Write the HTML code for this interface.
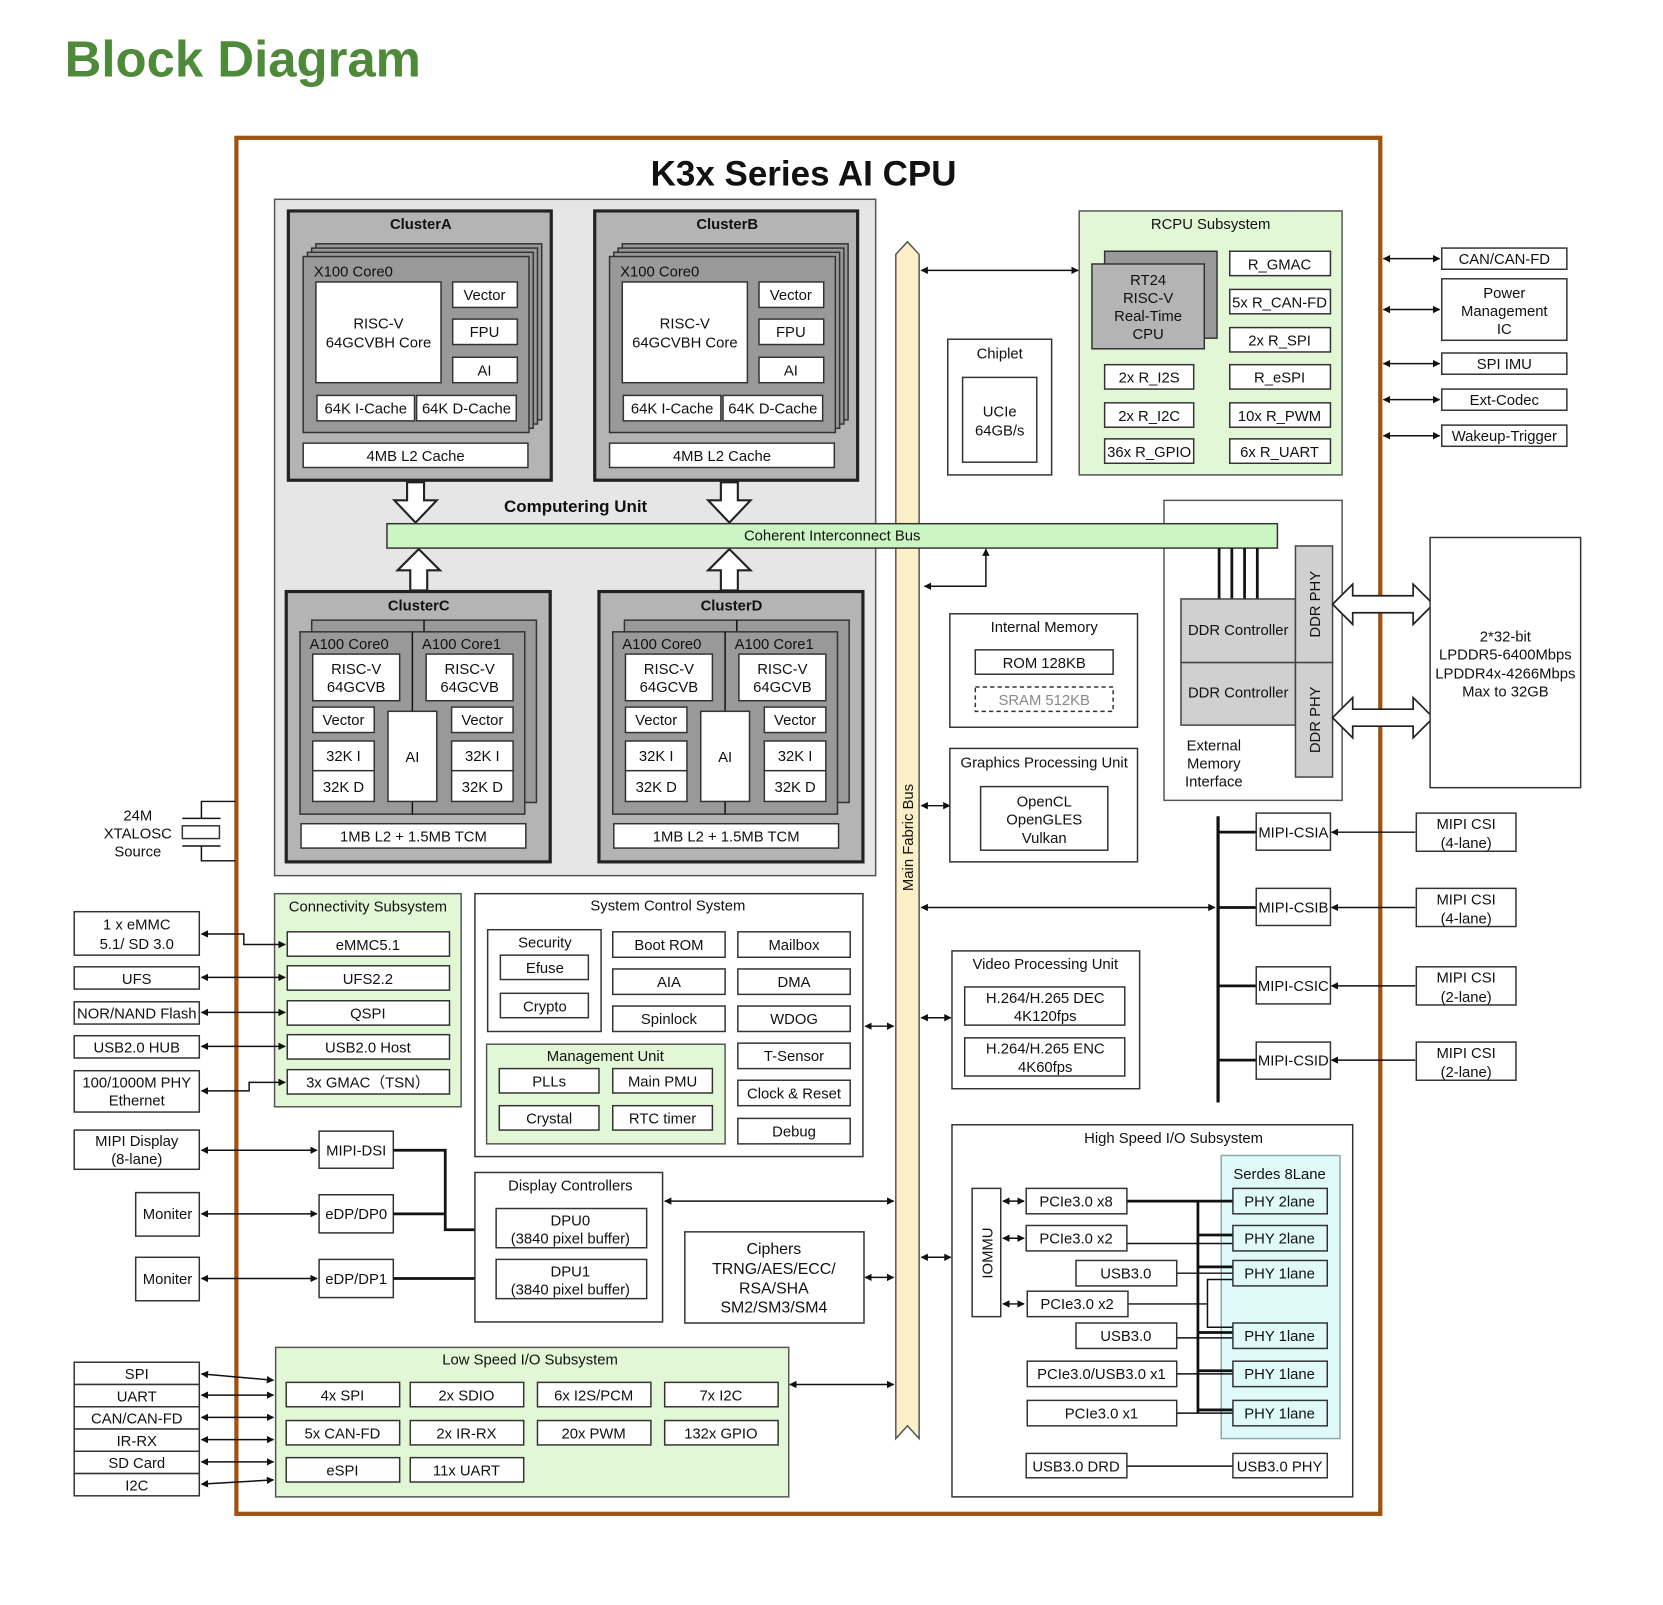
<!DOCTYPE html>
<html><head><meta charset="utf-8"><style>
html,body{margin:0;padding:0;background:#fff;}
svg{display:block;}
text{font-family:"Liberation Sans",sans-serif;font-size:14px;fill:#111;text-anchor:middle;}
.l{text-anchor:start;}
.b{font-weight:bold;}
rect{fill:#fff;stroke:#333;stroke-width:1.4;}
.g{fill:#b4b4b4;stroke:#222;stroke-width:3;}
.m{fill:#999;stroke:#333;stroke-width:1.4;}
.lg{fill:#e1f7d5;stroke:#555;}
.gr{fill:#d0d0d0;stroke:#444;}
line,polyline,path{stroke:#111;stroke-width:1.4;fill:none;}
.a{marker-start:url(#ar);marker-end:url(#ar);}
.e{marker-end:url(#ar);}
.t{stroke-width:2.6;}
</style></head><body>
<svg width="1663" height="1605" viewBox="0 0 1568.7 1514" preserveAspectRatio="none" xmlns="http://www.w3.org/2000/svg">
<defs><marker id="ar" viewBox="0 0 10 10" refX="9" refY="5" markerWidth="7" markerHeight="7" orient="auto-start-reverse" markerUnits="userSpaceOnUse"><path d="M0,0 L10,5 L0,10 z" style="fill:#111;stroke:none"/></marker></defs>

<text x="61" y="72" class="l b" style="font-size:48px;fill:#4e8a3a">Block Diagram</text>
<rect x="223" y="130" width="1079" height="1298" style="fill:#fff;stroke:#a0520f;stroke-width:4"/>
<text x="758" y="175" class="b" style="font-size:33px">K3x Series AI CPU</text>

<rect x="259" y="188" width="567" height="638" style="fill:#e6e6e6;stroke:#555"/>
<g>
<rect class="g" x="272" y="199" width="248" height="254"/>
<text x="397" y="216" class="b">ClusterA</text>
<rect class="m" x="298" y="230" width="213" height="166"/><rect class="m" x="294" y="234" width="213" height="166"/><rect class="m" x="290" y="238" width="213" height="166"/><rect class="m" x="286" y="242" width="213" height="166"/>
<text x="296" y="261" class="l">X100 Core0</text>
<rect x="298" y="266" width="118" height="95"/><text x="357" y="310">RISC-V</text><text x="357" y="328">64GCVBH Core</text>
<rect x="427" y="266" width="61" height="24"/><text x="457" y="283">Vector</text>
<rect x="427" y="301" width="61" height="24"/><text x="457" y="318">FPU</text>
<rect x="427" y="337" width="61" height="24"/><text x="457" y="354">AI</text>
<rect x="299" y="373" width="92" height="24"/><text x="345" y="390">64K I-Cache</text>
<rect x="393" y="373" width="94" height="24"/><text x="440" y="390">64K D-Cache</text>
<rect x="286" y="418" width="212" height="23"/><text x="392" y="435">4MB L2 Cache</text>
</g>
<g transform="translate(289,0)">
<rect class="g" x="272" y="199" width="248" height="254"/>
<text x="397" y="216" class="b">ClusterB</text>
<rect class="m" x="298" y="230" width="213" height="166"/><rect class="m" x="294" y="234" width="213" height="166"/><rect class="m" x="290" y="238" width="213" height="166"/><rect class="m" x="286" y="242" width="213" height="166"/>
<text x="296" y="261" class="l">X100 Core0</text>
<rect x="298" y="266" width="118" height="95"/><text x="357" y="310">RISC-V</text><text x="357" y="328">64GCVBH Core</text>
<rect x="427" y="266" width="61" height="24"/><text x="457" y="283">Vector</text>
<rect x="427" y="301" width="61" height="24"/><text x="457" y="318">FPU</text>
<rect x="427" y="337" width="61" height="24"/><text x="457" y="354">AI</text>
<rect x="299" y="373" width="92" height="24"/><text x="345" y="390">64K I-Cache</text>
<rect x="393" y="373" width="94" height="24"/><text x="440" y="390">64K D-Cache</text>
<rect x="286" y="418" width="212" height="23"/><text x="392" y="435">4MB L2 Cache</text>
</g>
<polygon points="384,455 400,455 400,472 412,472 392,493 372,472 384,472" style="fill:#fff;stroke:#222;stroke-width:2"/>
<polygon points="680,455 696,455 696,472 708,472 688,493 668,472 680,472" style="fill:#fff;stroke:#222;stroke-width:2"/>
<polygon points="387,557 403,557 403,538 415,538 395,518 375,538 387,538" style="fill:#fff;stroke:#222;stroke-width:2"/>
<polygon points="680,557 696,557 696,538 708,538 688,518 668,538 680,538" style="fill:#fff;stroke:#222;stroke-width:2"/>
<text x="543" y="483" class="b" style="font-size:16px">Computering Unit</text>

<g>
<rect class="g" x="270" y="558" width="249" height="255"/>
<text x="395" y="576" class="b">ClusterC</text>
<rect class="m" x="294" y="585" width="212" height="172"/><line x1="400" y1="585" x2="400" y2="596"/>
<rect class="m" x="283" y="596" width="212" height="172"/><line x1="389" y1="596" x2="389" y2="768"/>
<text x="292" y="612" class="l">A100 Core0</text><text x="398" y="612" class="l">A100 Core1</text>
<rect x="295" y="617" width="82" height="44"/><text x="336" y="636">RISC-V</text><text x="336" y="653">64GCVB</text>
<rect x="402" y="617" width="82" height="44"/><text x="443" y="636">RISC-V</text><text x="443" y="653">64GCVB</text>
<rect x="295" y="667" width="58" height="24"/><text x="324" y="684">Vector</text>
<rect x="426" y="667" width="58" height="24"/><text x="455" y="684">Vector</text>
<rect x="366" y="671" width="46" height="85"/><text x="389" y="719">AI</text>
<rect x="295" y="699" width="58" height="28"/><text x="324" y="718">32K I</text>
<rect x="295" y="727" width="58" height="29"/><text x="324" y="747">32K D</text>
<rect x="426" y="699" width="58" height="28"/><text x="455" y="718">32K I</text>
<rect x="426" y="727" width="58" height="29"/><text x="455" y="747">32K D</text>
<rect x="284" y="777" width="212" height="23"/><text x="390" y="794">1MB L2 + 1.5MB TCM</text>
</g>
<g transform="translate(295,0)">
<rect class="g" x="270" y="558" width="249" height="255"/>
<text x="395" y="576" class="b">ClusterD</text>
<rect class="m" x="294" y="585" width="212" height="172"/><line x1="400" y1="585" x2="400" y2="596"/>
<rect class="m" x="283" y="596" width="212" height="172"/><line x1="389" y1="596" x2="389" y2="768"/>
<text x="292" y="612" class="l">A100 Core0</text><text x="398" y="612" class="l">A100 Core1</text>
<rect x="295" y="617" width="82" height="44"/><text x="336" y="636">RISC-V</text><text x="336" y="653">64GCVB</text>
<rect x="402" y="617" width="82" height="44"/><text x="443" y="636">RISC-V</text><text x="443" y="653">64GCVB</text>
<rect x="295" y="667" width="58" height="24"/><text x="324" y="684">Vector</text>
<rect x="426" y="667" width="58" height="24"/><text x="455" y="684">Vector</text>
<rect x="366" y="671" width="46" height="85"/><text x="389" y="719">AI</text>
<rect x="295" y="699" width="58" height="28"/><text x="324" y="718">32K I</text>
<rect x="295" y="727" width="58" height="29"/><text x="324" y="747">32K D</text>
<rect x="426" y="699" width="58" height="28"/><text x="455" y="718">32K I</text>
<rect x="426" y="727" width="58" height="29"/><text x="455" y="747">32K D</text>
<rect x="284" y="777" width="212" height="23"/><text x="390" y="794">1MB L2 + 1.5MB TCM</text>
</g>

<polygon points="845,240 856,228 867,240 867,1357 856,1345 845,1357" style="fill:#fdf0c8;stroke:#555;stroke-width:1.4"/>
<text x="861" y="790" transform="rotate(-90 861 790)">Main Fabric Bus</text>

<line class="a" x1="869" y1="255" x2="1017" y2="255"/>
<polyline class="a" points="872,553 930,553 930,518"/>
<line class="a" x1="869" y1="760" x2="896" y2="760"/>
<line class="a" x1="869" y1="856" x2="1146" y2="856"/>
<line class="a" x1="869" y1="960" x2="897" y2="960"/>
<line class="a" x1="869" y1="1186" x2="897" y2="1186"/>
<line class="a" x1="816" y1="968" x2="843" y2="968"/>
<line class="a" x1="627" y1="1133" x2="843" y2="1133"/>
<line class="a" x1="816" y1="1205" x2="843" y2="1205"/>
<line class="a" x1="745" y1="1306" x2="843" y2="1306"/>

<rect class="lg" x="1018" y="199" width="248" height="249"/>
<text x="1142" y="216">RCPU Subsystem</text>
<rect class="m" x="1042" y="237" width="106" height="82"/>
<rect x="1030" y="249" width="106" height="80" style="fill:#b4b4b4"/>
<text x="1083" y="269">RT24</text><text x="1083" y="286">RISC-V</text><text x="1083" y="303">Real-Time</text><text x="1083" y="320">CPU</text>
<rect x="1160" y="237" width="95" height="23"/><text x="1207" y="254">R_GMAC</text>
<rect x="1160" y="273" width="95" height="23"/><text x="1207" y="290">5x R_CAN-FD</text>
<rect x="1160" y="309" width="95" height="23"/><text x="1207" y="326">2x R_SPI</text>
<rect x="1160" y="344" width="95" height="23"/><text x="1207" y="361">R_eSPI</text>
<rect x="1160" y="380" width="95" height="23"/><text x="1207" y="397">10x R_PWM</text>
<rect x="1160" y="414" width="95" height="23"/><text x="1207" y="431">6x R_UART</text>
<rect x="1042" y="344" width="84" height="23"/><text x="1084" y="361">2x R_I2S</text>
<rect x="1042" y="380" width="84" height="23"/><text x="1084" y="397">2x R_I2C</text>
<rect x="1042" y="414" width="84" height="23"/><text x="1084" y="431">36x R_GPIO</text>

<rect x="894" y="320" width="98" height="128"/><text x="943" y="338">Chiplet</text>
<rect x="908" y="356" width="70" height="80"/><text x="943" y="393">UCIe</text><text x="943" y="411">64GB/s</text>

<line class="a" x1="1305" y1="244" x2="1358" y2="244"/><rect x="1360" y="234" width="118" height="20"/><text x="1419" y="249">CAN/CAN-FD</text>
<line class="a" x1="1305" y1="292" x2="1358" y2="292"/><rect x="1360" y="263" width="118" height="58"/><text x="1419" y="281">Power</text><text x="1419" y="298">Management</text><text x="1419" y="315">IC</text>
<line class="a" x1="1305" y1="343" x2="1358" y2="343"/><rect x="1360" y="333" width="118" height="20"/><text x="1419" y="348">SPI IMU</text>
<line class="a" x1="1305" y1="377" x2="1358" y2="377"/><rect x="1360" y="367" width="118" height="20"/><text x="1419" y="382">Ext-Codec</text>
<line class="a" x1="1305" y1="411" x2="1358" y2="411"/><rect x="1360" y="401" width="118" height="20"/><text x="1419" y="416">Wakeup-Trigger</text>

<rect x="1098" y="472" width="168" height="283" style="fill:none;stroke:#555"/>
<rect x="365" y="494" width="840" height="23" style="fill:#ccf5c4"/><text x="785" y="510">Coherent Interconnect Bus</text>
<line x1="1150" y1="517" x2="1150" y2="565" class="t"/><line x1="1162" y1="517" x2="1162" y2="565" class="t"/><line x1="1174" y1="517" x2="1174" y2="565" class="t"/><line x1="1186" y1="517" x2="1186" y2="565" class="t"/>
<rect class="gr" x="1114" y="565" width="108" height="60"/><text x="1168" y="599">DDR Controller</text>
<rect class="gr" x="1114" y="625" width="108" height="59"/><text x="1168" y="658">DDR Controller</text>
<rect class="gr" x="1222" y="515" width="35" height="110"/><text x="1245" y="570" transform="rotate(-90 1245 570)">DDR PHY</text>
<rect class="gr" x="1222" y="625" width="35" height="108"/><text x="1245" y="679" transform="rotate(-90 1245 679)">DDR PHY</text>
<text x="1145" y="708">External</text><text x="1145" y="725">Memory</text><text x="1145" y="742">Interface</text>
<polygon points="1257,570 1276,551 1276,562 1333,562 1333,551 1352,570 1333,589 1333,578 1276,578 1276,589" style="fill:#fff;stroke:#222;stroke-width:1.6"/>
<polygon points="1257,677 1276,658 1276,669 1333,669 1333,658 1352,677 1333,696 1333,685 1276,685 1276,696" style="fill:#fff;stroke:#222;stroke-width:1.6"/>
<rect x="1349" y="507" width="142" height="236"/>
<text x="1420" y="605">2*32-bit</text><text x="1420" y="622">LPDDR5-6400Mbps</text><text x="1420" y="640">LPDDR4x-4266Mbps</text><text x="1420" y="657">Max to 32GB</text>

<rect x="896" y="579" width="177" height="107"/><text x="985" y="596">Internal Memory</text>
<rect x="920" y="613" width="130" height="23"/><text x="985" y="630">ROM 128KB</text>
<rect x="920" y="648" width="130" height="23" style="stroke-dasharray:4 3"/><text x="985" y="665" style="fill:#888">SRAM 512KB</text>
<rect x="896" y="706" width="177" height="107"/><text x="985" y="724">Graphics Processing Unit</text>
<rect x="925" y="742" width="120" height="60"/><text x="985" y="761">OpenCL</text><text x="985" y="778">OpenGLES</text><text x="985" y="795">Vulkan</text>

<line x1="1149" y1="770" x2="1149" y2="1040" style="stroke-width:3"/>
<line x1="1149" y1="785" x2="1185" y2="785" class="t"/><line x1="1149" y1="856" x2="1185" y2="856" class="t"/><line x1="1149" y1="930" x2="1185" y2="930" class="t"/><line x1="1149" y1="1000" x2="1185" y2="1000" class="t"/>
<rect x="1185" y="767" width="70" height="35"/><text x="1220" y="790">MIPI-CSIA</text>
<rect x="1185" y="838" width="70" height="35"/><text x="1220" y="861">MIPI-CSIB</text>
<rect x="1185" y="912" width="70" height="35"/><text x="1220" y="935">MIPI-CSIC</text>
<rect x="1185" y="983" width="70" height="35"/><text x="1220" y="1005">MIPI-CSID</text>
<line class="e" x1="1335" y1="785" x2="1256" y2="785"/><line class="e" x1="1335" y1="856" x2="1256" y2="856"/><line class="e" x1="1335" y1="930" x2="1256" y2="930"/><line class="e" x1="1335" y1="1000" x2="1256" y2="1000"/>
<rect x="1336" y="767" width="94" height="36"/><text x="1383" y="782">MIPI CSI</text><text x="1383" y="800">(4-lane)</text>
<rect x="1336" y="838" width="94" height="36"/><text x="1383" y="853">MIPI CSI</text><text x="1383" y="871">(4-lane)</text>
<rect x="1336" y="912" width="94" height="36"/><text x="1383" y="927">MIPI CSI</text><text x="1383" y="945">(2-lane)</text>
<rect x="1336" y="983" width="94" height="36"/><text x="1383" y="998">MIPI CSI</text><text x="1383" y="1016">(2-lane)</text>

<rect x="898" y="897" width="177" height="130"/><text x="986" y="914">Video Processing Unit</text>
<rect x="910" y="931" width="151" height="36"/><text x="986" y="946">H.264/H.265 DEC</text><text x="986" y="963">4K120fps</text>
<rect x="910" y="979" width="151" height="36"/><text x="986" y="994">H.264/H.265 ENC</text><text x="986" y="1011">4K60fps</text>

<rect x="898" y="1061" width="378" height="351"/><text x="1107" y="1078">High Speed I/O Subsystem</text>
<rect x="1152" y="1090" width="112" height="267" style="fill:#e0fafa;stroke:#8aa"/><text x="1207" y="1112">Serdes 8Lane</text>
<rect x="917" y="1121" width="27" height="121"/><text x="936" y="1182" transform="rotate(-90 936 1182)">IOMMU</text>
<line class="a" x1="946" y1="1133" x2="966" y2="1133"/><line class="a" x1="946" y1="1168" x2="966" y2="1168"/><line class="a" x1="946" y1="1230" x2="966" y2="1230"/>
<line x1="1130" y1="1133" x2="1130" y2="1333" class="t"/>
<line x1="1063" y1="1133" x2="1163" y2="1133" class="t"/>
<line x1="1130" y1="1165" x2="1163" y2="1165" class="t"/><line x1="1130" y1="1195" x2="1163" y2="1195" class="t"/><line x1="1130" y1="1257" x2="1163" y2="1257" class="t"/><line x1="1130" y1="1293" x2="1163" y2="1293" class="t"/><line x1="1130" y1="1330" x2="1163" y2="1330" class="t"/>
<line x1="1063" y1="1173" x2="1163" y2="1173"/><line x1="1110" y1="1201" x2="1163" y2="1201"/>
<polyline points="1064,1230 1139,1230"/><polyline points="1163,1207 1139,1207 1139,1252 1163,1252"/>
<line x1="1110" y1="1262" x2="1163" y2="1262"/><line x1="1110" y1="1296" x2="1163" y2="1296"/><line x1="1110" y1="1333" x2="1163" y2="1333"/>
<rect x="968" y="1121" width="95" height="24"/><text x="1015" y="1138">PCIe3.0 x8</text>
<rect x="968" y="1156" width="95" height="24"/><text x="1015" y="1173">PCIe3.0 x2</text>
<rect x="1015" y="1189" width="95" height="24"/><text x="1062" y="1206">USB3.0</text>
<rect x="969" y="1218" width="95" height="24"/><text x="1016" y="1235">PCIe3.0 x2</text>
<rect x="1015" y="1248" width="95" height="24"/><text x="1062" y="1265">USB3.0</text>
<rect x="969" y="1284" width="141" height="24"/><text x="1039" y="1301">PCIe3.0/USB3.0 x1</text>
<rect x="969" y="1321" width="141" height="24"/><text x="1039" y="1338">PCIe3.0 x1</text>
<rect x="1163" y="1121" width="89" height="24" style="fill:#e0fafa"/><text x="1207" y="1138">PHY 2lane</text>
<rect x="1163" y="1156" width="89" height="24" style="fill:#e0fafa"/><text x="1207" y="1173">PHY 2lane</text>
<rect x="1163" y="1189" width="89" height="24" style="fill:#e0fafa"/><text x="1207" y="1206">PHY 1lane</text>
<rect x="1163" y="1248" width="89" height="24" style="fill:#e0fafa"/><text x="1207" y="1265">PHY 1lane</text>
<rect x="1163" y="1284" width="89" height="24" style="fill:#e0fafa"/><text x="1207" y="1301">PHY 1lane</text>
<rect x="1163" y="1321" width="89" height="24" style="fill:#e0fafa"/><text x="1207" y="1338">PHY 1lane</text>
<line x1="1063" y1="1383" x2="1163" y2="1383"/>
<rect x="968" y="1371" width="95" height="23"/><text x="1015" y="1388">USB3.0 DRD</text>
<rect x="1163" y="1371" width="89" height="23"/><text x="1207" y="1388">USB3.0 PHY</text>

<text x="130" y="774">24M</text><text x="130" y="791">XTALOSC</text><text x="130" y="808">Source</text>
<polyline points="222,756 190,756 190,772"/><polyline points="222,812 190,812 190,798"/>
<line x1="172" y1="772" x2="208" y2="772"/><line x1="172" y1="798" x2="208" y2="798"/>
<rect x="172" y="779" width="35" height="12"/>

<rect class="lg" x="259" y="843" width="176" height="201"/><text x="347" y="860">Connectivity Subsystem</text>
<rect x="271" y="879" width="153" height="23"/><text x="347" y="896">eMMC5.1</text>
<rect x="271" y="911" width="153" height="23"/><text x="347" y="928">UFS2.2</text>
<rect x="271" y="944" width="153" height="23"/><text x="347" y="961">QSPI</text>
<rect x="271" y="976" width="153" height="23"/><text x="347" y="993">USB2.0 Host</text>
<rect x="271" y="1009" width="153" height="23"/><text x="347" y="1026">3x GMAC（TSN）</text>
<rect x="70" y="860" width="118" height="41"/><text x="129" y="877">1 x eMMC</text><text x="129" y="895">5.1/ SD 3.0</text>
<rect x="70" y="912" width="118" height="21"/><text x="129" y="928">UFS</text>
<rect x="70" y="945" width="118" height="21"/><text x="129" y="961">NOR/NAND Flash</text>
<rect x="70" y="977" width="118" height="21"/><text x="129" y="993">USB2.0 HUB</text>
<rect x="70" y="1010" width="118" height="39"/><text x="129" y="1026">100/1000M PHY</text><text x="129" y="1043">Ethernet</text>
<polyline class="a" points="190,881 230,881 230,891 269,891"/>
<line class="a" x1="190" y1="922" x2="269" y2="922"/>
<line class="a" x1="190" y1="955" x2="269" y2="955"/>
<line class="a" x1="190" y1="987" x2="269" y2="987"/>
<polyline class="a" points="190,1029 235,1029 235,1021 269,1021"/>

<rect x="448" y="843" width="366" height="248"/><text x="630" y="859">System Control System</text>
<rect x="460" y="877" width="107" height="96"/><text x="514" y="894">Security</text>
<rect x="472" y="901" width="83" height="23"/><text x="514" y="918">Efuse</text>
<rect x="472" y="937" width="83" height="23"/><text x="514" y="954">Crypto</text>
<rect x="578" y="879" width="106" height="24"/><text x="631" y="896">Boot ROM</text>
<rect x="578" y="914" width="106" height="24"/><text x="631" y="931">AIA</text>
<rect x="578" y="949" width="106" height="24"/><text x="631" y="966">Spinlock</text>
<rect x="696" y="879" width="106" height="24"/><text x="749" y="896">Mailbox</text>
<rect x="696" y="914" width="106" height="24"/><text x="749" y="931">DMA</text>
<rect x="696" y="949" width="106" height="24"/><text x="749" y="966">WDOG</text>
<rect x="696" y="984" width="106" height="24"/><text x="749" y="1001">T-Sensor</text>
<rect x="696" y="1019" width="106" height="24"/><text x="749" y="1036">Clock &amp; Reset</text>
<rect x="696" y="1055" width="106" height="24"/><text x="749" y="1072">Debug</text>
<rect class="lg" x="459" y="985" width="225" height="94"/><text x="571" y="1001">Management Unit</text>
<rect x="471" y="1008" width="94" height="23"/><text x="518" y="1025">PLLs</text>
<rect x="578" y="1008" width="94" height="23"/><text x="625" y="1025">Main PMU</text>
<rect x="471" y="1043" width="94" height="23"/><text x="518" y="1060">Crystal</text>
<rect x="578" y="1043" width="94" height="23"/><text x="625" y="1060">RTC timer</text>

<rect x="70" y="1066" width="118" height="37"/><text x="129" y="1081">MIPI Display</text><text x="129" y="1098">(8-lane)</text>
<rect x="128" y="1125" width="60" height="41"/><text x="158" y="1150">Moniter</text>
<rect x="128" y="1186" width="60" height="41"/><text x="158" y="1211">Moniter</text>
<line class="a" x1="190" y1="1085" x2="299" y2="1085"/>
<line class="a" x1="190" y1="1145" x2="299" y2="1145"/>
<line class="a" x1="190" y1="1206" x2="299" y2="1206"/>
<rect x="301" y="1067" width="70" height="35"/><text x="336" y="1090">MIPI-DSI</text>
<rect x="301" y="1127" width="70" height="36"/><text x="336" y="1150">eDP/DP0</text>
<rect x="301" y="1188" width="70" height="36"/><text x="336" y="1211">eDP/DP1</text>
<polyline class="t" points="371,1085 420,1085 420,1160 469,1160"/>
<line class="t" x1="371" y1="1145" x2="420" y2="1145"/>
<line class="t" x1="371" y1="1206" x2="469" y2="1206"/>
<rect x="448" y="1106" width="177" height="141"/><text x="538" y="1123">Display Controllers</text>
<rect x="468" y="1140" width="142" height="37"/><text x="538" y="1156">DPU0</text><text x="538" y="1173">(3840 pixel buffer)</text>
<rect x="468" y="1188" width="142" height="37"/><text x="538" y="1204">DPU1</text><text x="538" y="1221">(3840 pixel buffer)</text>
<rect x="646" y="1162" width="169" height="86"/><text x="730" y="1183" style="font-size:15px">Ciphers</text><text x="730" y="1202" style="font-size:15px">TRNG/AES/ECC/</text><text x="730" y="1220" style="font-size:15px">RSA/SHA</text><text x="730" y="1238" style="font-size:15px">SM2/SM3/SM4</text>

<rect class="lg" x="260" y="1271" width="484" height="141"/><text x="500" y="1287">Low Speed I/O Subsystem</text>
<rect x="270" y="1304" width="107" height="23"/><text x="323" y="1321">4x SPI</text>
<rect x="387" y="1304" width="107" height="23"/><text x="440" y="1321">2x SDIO</text>
<rect x="507" y="1304" width="107" height="23"/><text x="560" y="1321">6x I2S/PCM</text>
<rect x="627" y="1304" width="107" height="23"/><text x="680" y="1321">7x I2C</text>
<rect x="270" y="1340" width="107" height="23"/><text x="323" y="1357">5x CAN-FD</text>
<rect x="387" y="1340" width="107" height="23"/><text x="440" y="1357">2x IR-RX</text>
<rect x="507" y="1340" width="107" height="23"/><text x="560" y="1357">20x PWM</text>
<rect x="627" y="1340" width="107" height="23"/><text x="680" y="1357">132x GPIO</text>
<rect x="270" y="1375" width="107" height="23"/><text x="323" y="1392">eSPI</text>
<rect x="387" y="1375" width="107" height="23"/><text x="440" y="1392">11x UART</text>
<rect x="70" y="1285" width="118" height="21"/><text x="129" y="1301">SPI</text>
<rect x="70" y="1306" width="118" height="21"/><text x="129" y="1322">UART</text>
<rect x="70" y="1327" width="118" height="21"/><text x="129" y="1343">CAN/CAN-FD</text>
<rect x="70" y="1348" width="118" height="21"/><text x="129" y="1364">IR-RX</text>
<rect x="70" y="1369" width="118" height="21"/><text x="129" y="1385">SD Card</text>
<rect x="70" y="1390" width="118" height="21"/><text x="129" y="1406">I2C</text>
<line class="a" x1="190" y1="1296" x2="258" y2="1302"/>
<line class="a" x1="190" y1="1316" x2="258" y2="1316"/>
<line class="a" x1="190" y1="1337" x2="258" y2="1337"/>
<line class="a" x1="190" y1="1358" x2="258" y2="1358"/>
<line class="a" x1="190" y1="1379" x2="258" y2="1379"/>
<line class="a" x1="190" y1="1400" x2="258" y2="1396"/>
</svg>
</body></html>
